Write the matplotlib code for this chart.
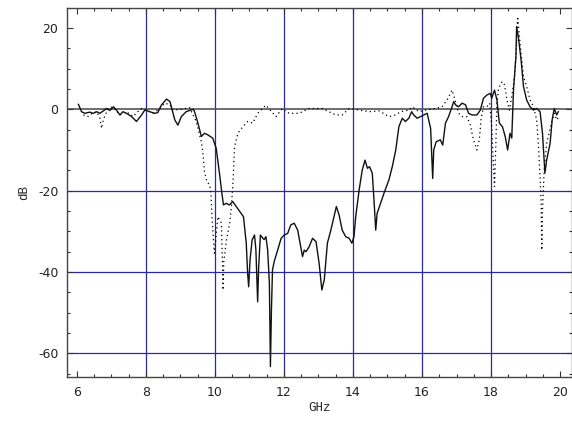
import matplotlib
matplotlib.use("Agg")
import matplotlib.pyplot as plt
from matplotlib.ticker import MultipleLocator

# Measured transmission (solid) and reference response (dotted), dB vs GHz
solid_ghz = [6.05, 6.14, 6.24, 6.38, 6.48, 6.58, 6.67, 6.77, 6.87, 6.96, 7.06, 7.15,
             7.25, 7.34, 7.44, 7.59, 7.73, 7.88, 7.97, 8.11, 8.26, 8.35, 8.45, 8.60,
             8.70, 8.84, 8.93, 9.03, 9.17, 9.37, 9.41, 9.51, 9.61, 9.70, 9.80, 9.94,
             10.04, 10.14, 10.21, 10.25, 10.33, 10.42, 10.52, 10.62, 10.76, 10.83,
             10.91, 10.95, 10.98, 11.02, 11.08, 11.15, 11.19, 11.24, 11.27, 11.32,
             11.39, 11.43, 11.48, 11.53, 11.58, 11.61, 11.64, 11.67, 11.72, 11.82,
             11.92, 12.01, 12.11, 12.20, 12.30, 12.40, 12.49, 12.54, 12.59, 12.64,
             12.73, 12.83, 12.93, 13.02, 13.10, 13.17, 13.26, 13.36, 13.45, 13.52,
             13.60, 13.69, 13.79, 13.89, 13.97, 14.03, 14.08, 14.18, 14.27, 14.35,
             14.42, 14.48, 14.56, 14.61, 14.66, 14.70, 14.80, 14.90, 15.04, 15.14,
             15.24, 15.33, 15.43, 15.52, 15.62, 15.70, 15.76, 15.86, 15.96, 16.05,
             16.15, 16.25, 16.31, 16.34, 16.41, 16.53, 16.60, 16.68, 16.77, 16.87,
             16.92, 16.97, 17.06, 17.16, 17.26, 17.35, 17.45, 17.59, 17.69, 17.78,
             17.88, 17.98, 18.02, 18.10, 18.17, 18.24, 18.33, 18.41, 18.48, 18.55,
             18.60, 18.65, 18.72, 18.74, 18.79, 18.87, 18.94, 19.03, 19.13, 19.23,
             19.32, 19.42, 19.49, 19.56, 19.61, 19.71, 19.77, 19.83, 19.90, 19.95]
solid_db = [1.2, -0.6, -1.0, -0.7, -1.0, -0.6, -1.0, -0.4, 0.2, -0.3, 0.6, -0.2,
            -1.4, -0.6, -1.0, -1.8, -3.0, -1.4, -0.2, -0.6, -1.0, -0.8, 1.0, 2.5,
            1.9, -2.6, -3.9, -1.8, -0.6, 0.0, -0.5, -3.4, -6.7, -5.9, -6.3, -7.1,
            -9.6, -16.1, -21.0, -23.5, -23.1, -23.5, -22.7, -23.9, -25.6, -26.4,
            -32.9, -40.3, -43.6, -37.0, -32.1, -30.9, -34.6, -47.3, -38.7, -30.9,
            -31.7, -32.0, -31.3, -34.6, -42.8, -63.2, -49.3, -39.5, -37.4, -34.6,
            -31.7, -30.9, -30.5, -28.4, -28.0, -29.7, -33.8, -36.2, -34.6, -35.0,
            -33.8, -31.7, -32.5, -37.8, -44.4, -41.9, -32.9, -29.7, -26.4, -23.9,
            -26.0, -29.7, -31.3, -31.7, -32.9, -31.3, -26.4, -19.8, -14.9, -12.5,
            -14.5, -14.1, -15.7, -22.3, -29.7, -25.6, -23.1, -20.6, -17.4, -14.1,
            -10.0, -4.3, -2.2, -3.0, -2.2, -0.6, -1.4, -2.2, -1.8, -1.4,
            -1.0, -4.7, -17.0, -10.0, -8.0, -7.5, -8.8, -3.4, -1.8, 0.6,
            1.9, 1.1, 0.6, 1.5, 1.1, -1.0, -1.4, -1.4, -0.2, 2.7,
            3.5, 3.9, 2.7, 4.7, 2.3, -3.4, -4.3, -6.7, -10.0, -5.9,
            -7.1, 4.7, 12.9, 20.3, 17.8, 12.1, 5.6, 2.3, 0.6, -0.2,
            0.2, -0.6, -5.9, -15.7, -12.5, -8.4, -2.6, 0.2, -1.4, -0.6]

dotted_ghz = [6.19, 6.34, 6.44, 6.58, 6.67, 6.72, 6.77, 6.91, 7.06, 7.25, 7.44, 7.63,
              7.77, 7.88, 8.02, 8.21, 8.41, 8.55, 8.70, 8.79, 9.03, 9.27, 9.46, 9.61,
              9.65, 9.70, 9.77, 9.85, 9.89, 9.92, 9.95, 9.99, 10.09, 10.19, 10.24,
              10.26, 10.34, 10.43, 10.48, 10.53, 10.57, 10.67, 10.81, 10.95, 11.10,
              11.24, 11.48, 11.77, 11.96, 12.15, 12.44, 12.73, 13.11, 13.50, 13.69,
              13.89, 14.18, 14.47, 14.76, 15.04, 15.24, 15.38, 15.62, 15.72, 15.91,
              16.10, 16.39, 16.58, 16.73, 16.87, 16.97, 17.06, 17.16, 17.30, 17.40,
              17.49, 17.59, 17.66, 17.71, 17.78, 17.88, 17.96, 18.02, 18.07, 18.10,
              18.14, 18.17, 18.22, 18.32, 18.39, 18.46, 18.53, 18.60, 18.68, 18.74,
              18.77, 18.84, 18.94, 19.03, 19.13, 19.23, 19.32, 19.37, 19.42, 19.45,
              19.47, 19.49, 19.54, 19.61, 19.68, 19.75, 19.83, 19.90, 19.97]
dotted_db = [-1.4, -1.8, -1.0, -0.6, -2.2, -4.7, -2.6, 0.2, 0.6, -1.4, -0.6, -1.8,
             -0.6, 0.2, -0.2, -1.0, 0.2, 1.5, 1.1, -0.2, 0.0, 0.4, -3.0, -8.0,
             -10.4, -15.3, -17.8, -18.6, -21.0, -26.8, -30.9, -35.4, -26.4, -28.0, -44.4,
             -37.4, -32.0, -28.0, -24.0, -17.4, -9.2, -5.9, -4.3, -3.0, -3.4,
             -1.0, 1.0, -1.8, 0.2, -1.0, -1.0, 0.2, 0.2, -1.4, -1.4,
             0.2, -0.2, -0.6, -0.4, -1.8, -1.4, -0.6, -0.2, 0.6, -0.6,
             -0.2, 0.2, 0.6, 2.3, 4.7, 1.9, -1.0, -1.8, -1.8, -3.9,
             -7.5, -10.0, -7.5, -2.6, 0.6, 0.6, 1.5, -4.3, -14.1, -19.0,
             -8.4, 1.5, 5.2, 6.8, 6.0, 2.3, -0.2, 3.1, 8.0, 16.2,
             22.8, 16.2, 8.0, 5.6, 2.3, 0.6, -2.6, -8.4, -16.6, -23.1,
             -34.6, -24.7, -14.9, -8.4, -5.9, -3.4, -1.0, -2.6, -1.8]

x_major = [6, 8, 10, 12, 14, 16, 18, 20]
y_major = [20, 0, -20, -40, -60]
v_grid = [8, 10, 12, 14, 16, 18]
h_grid = [-20, -40, -60]

plt.rcParams["axes.unicode_minus"] = False

fig = plt.figure(figsize=(5.72, 4.24), dpi=100)
ax = fig.add_axes([66.7 / 572, 1 - 376.7 / 424, (571.5 - 66.7) / 572, (376.7 - 8.3) / 424])

grid_blue = "#2a2aa8"
for g in v_grid:
    ax.axvline(g, color=grid_blue, lw=0.9, zorder=1)
for g in h_grid:
    ax.axhline(g, color=grid_blue, lw=0.9, zorder=1)
ax.axhline(0, color="#555555", lw=1.2, zorder=1)

ax.plot(dotted_ghz, dotted_db, color="black", lw=0.9, ls=(0, (1, 2.5)), zorder=3)
ax.plot(solid_ghz, solid_db, color="#111111", lw=1.0, zorder=4)

ax.set_xlim(5.71, 20.33)
ax.set_ylim(-65.7, 24.8)
ax.set_xticks(x_major)
ax.set_yticks(y_major)
ax.xaxis.set_minor_locator(MultipleLocator(0.5))
ax.yaxis.set_minor_locator(MultipleLocator(5))
ax.tick_params(which="both", direction="in", top=True, right=True, color="#333333",
               labelsize=9, labelcolor="#222222")
ax.tick_params(which="major", length=4, width=0.8)
ax.tick_params(which="minor", length=2.5, width=0.8)
ax.tick_params(axis="x", which="major", pad=7)
ax.tick_params(axis="y", which="major", pad=6)
for s in ax.spines.values():
    s.set_color("#444444")
    s.set_linewidth(1.0)

ax.set_xlabel("GHz", family="Liberation Mono", fontsize=9, labelpad=2, color="#222222")
ax.set_ylabel("dB", family="Liberation Mono", fontsize=9, labelpad=6, color="#222222")

fig.savefig("out.png", dpi=100)
